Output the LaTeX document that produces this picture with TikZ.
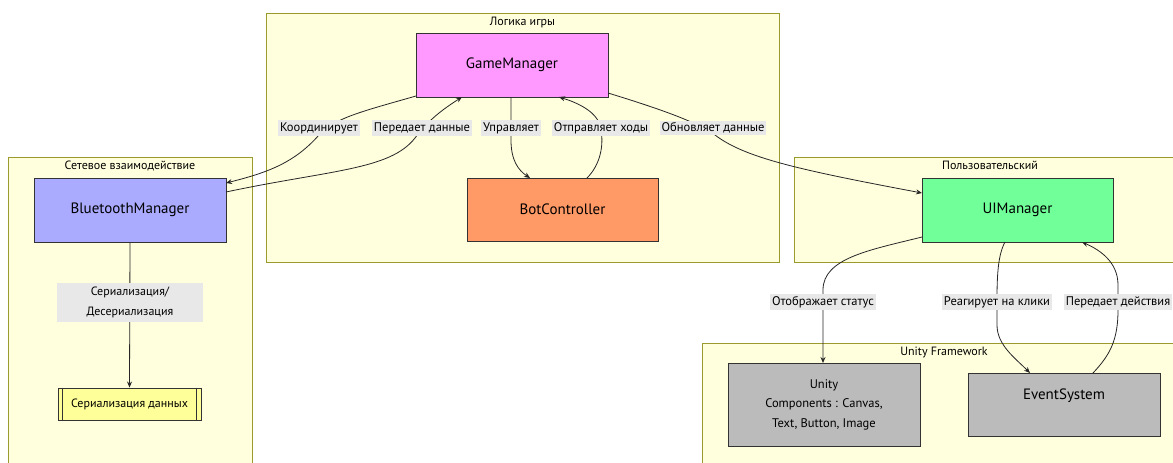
\documentclass[tikz,border=0pt]{standalone}
\usepackage{fontspec}
\setmainfont{PT Sans}
\usetikzlibrary{arrows.meta,shapes.multipart,calc}
\definecolor{clfill}{HTML}{FFFFDE}
\definecolor{clline}{HTML}{9A9A2E}
\definecolor{gmfill}{HTML}{FF99FF}
\definecolor{btfill}{HTML}{AAAAFF}
\definecolor{bcfill}{HTML}{FF9966}
\definecolor{uifill}{HTML}{70FF98}
\definecolor{grfill}{HTML}{BBBBBB}
\definecolor{serfill}{HTML}{FFFF99}
\definecolor{lblfill}{HTML}{E8E8E8}
\tikzset{
  cluster/.style={draw=clline, fill=clfill, line width=0.8pt},
  ctitle/.style={font=\fontsize{12}{14}\selectfont, anchor=north, inner sep=0pt},
  mnode/.style={draw=black!80, line width=0.9pt, font=\fontsize{15}{18}\selectfont, align=center, inner sep=0pt},
  elbl/.style={fill=lblfill, font=\fontsize{12.5}{16}\selectfont, inner sep=2pt, align=center},
  conn/.style={draw=black!85, line width=0.8pt, -{Stealth[length=6pt,width=5pt]}},
}
\begin{document}
\begin{tikzpicture}[x=1pt,y=-1pt]
\useasboundingbox (0,0) rectangle (1173,463);
% clusters
\path[cluster] (266,13) rectangle (779,262);
\node[ctitle] (tlogic) at (522.5,17) {Логика игры};
\path[cluster] (8,157) rectangle (252,470);
\node[ctitle] (tnet) at (130,161) {Сетевое взаимодействие};
\path[cluster] (794,157) rectangle (1180,262);
\node[ctitle] (tuser) at (990,161) {Пользовательский};
\path[cluster] (702,343) rectangle (1180,470);
\node[ctitle] (tunity) at (944,347) {Unity Framework};
% nodes
\node[mnode, fill=gmfill, minimum width=192, minimum height=64] (gm) at (512,65) {GameManager};
\node[mnode, fill=bcfill, minimum width=191, minimum height=63] (bc) at (562.5,209.5) {BotController};
\node[mnode, fill=btfill, minimum width=192, minimum height=64] (bt) at (130,210) {BluetoothManager};
\node[mnode, fill=uifill, minimum width=191, minimum height=64] (ui) at (1017.5,210) {UIManager};
\node[mnode, fill=grfill, minimum width=192, minimum height=83, font=\fontsize{12.5}{19.5}\selectfont] (uc) at (824,404.5) {Unity\\Components : Canvas,\\Text, Button, Image};
\node[mnode, fill=grfill, minimum width=192, minimum height=63, text depth=0pt] (es) at (1064,404.5) {EventSystem\\[2pt]\strut};
\node[mnode, fill=serfill, minimum width=143, minimum height=32, font=\fontsize{12}{14}\selectfont] (ser) at (129.5,404) {Сериализация данных};
\draw[black!80, line width=0.8pt] ($(ser.north west)+(5,0)$) -- ($(ser.south west)+(5,0)$);
\draw[black!80, line width=0.8pt] ($(ser.north east)+(-5,0)$) -- ($(ser.south east)+(-5,0)$);
% coordinates
\coordinate (gmbl) at (416,96);
\coordinate (gmbr) at (608,93);
\coordinate (gmb1) at (462,97);
\coordinate (gmb2) at (511,97);
\coordinate (gmb3) at (559,97);
\coordinate (btin) at (226,183);
\coordinate (btout) at (226,192);
\coordinate (bcin) at (530,178);
\coordinate (bcout) at (587,178);
\coordinate (uiin) at (922,193);
\coordinate (uiout) at (922,237);
\coordinate (uib1) at (1005,242);
\coordinate (uib2) at (1082,242);
\coordinate (ucin) at (823,363);
\coordinate (esin) at (1030,373);
\coordinate (esout) at (1093,373);
% edges
\draw[conn] (gmbl) .. controls (360,112) and (335,118) .. (319,135) .. controls (295,162) and (270,172) .. (btin);
\draw[conn] (btout) .. controls (330,170) and (390,170) .. (415,138) .. controls (430,118) and (445,108) .. (gmb1);
\draw[conn] (gmb2) -- (511,140) .. controls (511,160) and (518,170) .. (bcin);
\draw[conn] (bcout) .. controls (600,165) and (605,145) .. (600,125) .. controls (595,110) and (575,102) .. (gmb3);
\draw[conn] (gmbr) .. controls (680,115) and (700,125) .. (715,135) .. controls (745,158) and (800,170) .. (uiin);
\draw[conn] (uiout) .. controls (870,250) and (823,258) .. (823,290) -- (ucin);
\draw[conn] (uib1) .. controls (998,255) and (997,275) .. (997,300) -- (997,325) .. controls (997,345) and (1015,358) .. (esin);
\draw[conn] (esout) .. controls (1110,355) and (1118,340) .. (1118,310) -- (1118,285) .. controls (1118,262) and (1100,250) .. (uib2);
\draw[conn] (bt.south) -- (ser.north);
% labels
\node[elbl] (l1) at (319,128) {Координирует};
\node[elbl] (l2) at (422,128) {Передает данные};
\node[elbl] (l3) at (511,128) {Управляет};
\node[elbl] (l4) at (601,128) {Отправляет ходы};
\node[elbl] (l5) at (713,128) {Обновляет данные};
\node[elbl] (l6) at (823,302) {Отображает статус};
\node[elbl] (l7) at (997,302) {Реагирует на клики};
\node[elbl] (l8) at (1118,302) {Передает действия};
\node[elbl, minimum width=146, minimum height=39, font=\fontsize{12}{20}\selectfont] (l9) at (130,302.5) {Сериализация/\\Десериализация};
\end{tikzpicture}
\end{document}
